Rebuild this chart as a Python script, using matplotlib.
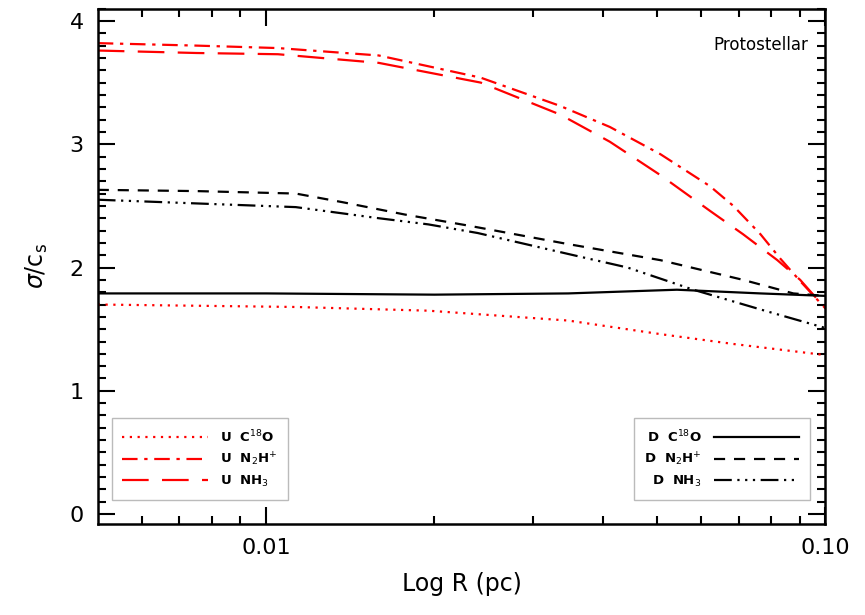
import numpy as np
import matplotlib
matplotlib.use('Agg')
import matplotlib.pyplot as plt
from matplotlib.ticker import FixedLocator, NullFormatter, MultipleLocator

# radius (pc) and sigma/c_s
r_uc18o = [0.005, 0.0113, 0.0195, 0.0347, 0.0507, 0.0685, 0.1]
u_c18o = [1.70, 1.68, 1.65, 1.57, 1.46, 1.38, 1.29]

r_un2h = [0.005, 0.0075, 0.0105, 0.0159, 0.0242, 0.0336, 0.0412, 0.0507, 0.0622,
          0.0685, 0.0766, 0.0832, 0.0902, 0.1]
u_n2h = [3.82, 3.80, 3.78, 3.72, 3.54, 3.31, 3.14, 2.92, 2.66,
         2.50, 2.27, 2.07, 1.89, 1.67]

r_unh3 = [0.005, 0.0075, 0.0105, 0.0159, 0.0242, 0.0336, 0.0412, 0.0507, 0.0622,
          0.0713, 0.0821, 0.0902, 0.1]
u_nh3 = [3.76, 3.74, 3.73, 3.66, 3.50, 3.24, 3.02, 2.75, 2.46,
         2.27, 2.06, 1.90, 1.67]

r_dc18o = [0.005, 0.01, 0.02, 0.0347, 0.0543, 0.0766, 0.1]
d_c18o = [1.79, 1.79, 1.78, 1.79, 1.82, 1.79, 1.77]

r_dn2h = [0.005, 0.0075, 0.0113, 0.0137, 0.0177, 0.0230, 0.0347, 0.0507, 0.0713, 0.0877, 0.1]
d_n2h = [2.63, 2.62, 2.60, 2.53, 2.43, 2.34, 2.19, 2.06, 1.90, 1.79, 1.77]

r_dnh3 = [0.005, 0.0075, 0.0113, 0.0159, 0.0195, 0.0239, 0.0347, 0.0443, 0.0581, 0.0766, 0.1]
d_nh3 = [2.55, 2.52, 2.49, 2.40, 2.35, 2.28, 2.11, 2.00, 1.82, 1.66, 1.51]

fig = plt.figure(figsize=(8.65, 6.15), dpi=100)
ax = fig.add_axes([0.113, 0.148, 0.841, 0.838])

lw = 1.6
l1, = ax.plot(r_uc18o, u_c18o, color='red', lw=lw, dashes=(1, 2.5), label=r'U  C$^{18}$O')
l2, = ax.plot(r_un2h, u_n2h, color='red', lw=lw, dashes=(7, 3, 1.5, 3), label=r'U  N$_2$H$^{+}$')
l3, = ax.plot(r_unh3, u_nh3, color='red', lw=lw, dashes=(12, 6), label=r'U  NH$_3$')
l4, = ax.plot(r_dc18o, d_c18o, color='black', lw=lw, label=r'D  C$^{18}$O')
l5, = ax.plot(r_dn2h, d_n2h, color='black', lw=lw, dashes=(5, 4), label=r'D  N$_2$H$^{+}$')
l6, = ax.plot(r_dnh3, d_nh3, color='black', lw=lw,
              dashes=(8, 2.5, 1, 2.5, 1, 2.5, 1, 2.5), label=r'D  NH$_3$')

ax.set_xscale('log')
ax.set_xlim(0.005, 0.1)
ax.set_ylim(-0.08, 4.1)

ax.xaxis.set_major_locator(FixedLocator([0.01, 0.1]))
ax.xaxis.set_major_formatter(plt.FixedFormatter(['0.01', '0.10']))
ax.xaxis.set_minor_locator(FixedLocator([0.006, 0.007, 0.008, 0.009,
                                         0.02, 0.03, 0.04, 0.05, 0.06, 0.07, 0.08, 0.09]))
ax.xaxis.set_minor_formatter(NullFormatter())
ax.yaxis.set_major_locator(MultipleLocator(1))
ax.yaxis.set_minor_locator(MultipleLocator(0.1))

ax.tick_params(which='both', direction='in', top=True, right=True, width=1.5,
               labelsize=16, pad=10)
ax.tick_params(which='major', length=12)
ax.tick_params(which='minor', length=6)
for s in ax.spines.values():
    s.set_linewidth(1.8)

ax.set_xlabel('Log R (pc)', fontsize=17, labelpad=10)
ax.set_ylabel(r'$\sigma$/c$_{\rm s}$', fontsize=17, labelpad=14)

ax.text(0.977, 0.93, 'Protostellar', transform=ax.transAxes, ha='right', va='center',
        fontsize=12)

leg1 = ax.legend(handles=[l1, l2, l3], loc='lower left', bbox_to_anchor=(0.019, 0.047),
                 handlelength=6.5, handletextpad=0.9, borderpad=0.8,
                 labelspacing=0.45, fancybox=False, edgecolor='#bbbbbb', framealpha=1,
                 borderaxespad=0, prop={'size': 9.5, 'weight': 'bold'})
ax.add_artist(leg1)
ax.legend(handles=[l4, l5, l6], loc='lower right', bbox_to_anchor=(0.979, 0.047),
          handlelength=6.5, handletextpad=0.9, borderpad=0.8, labelspacing=0.45,
          markerfirst=False, fancybox=False, edgecolor='#bbbbbb', framealpha=1,
          borderaxespad=0, prop={'size': 9.5, 'weight': 'bold'})

fig.savefig('out.png', dpi=100)
